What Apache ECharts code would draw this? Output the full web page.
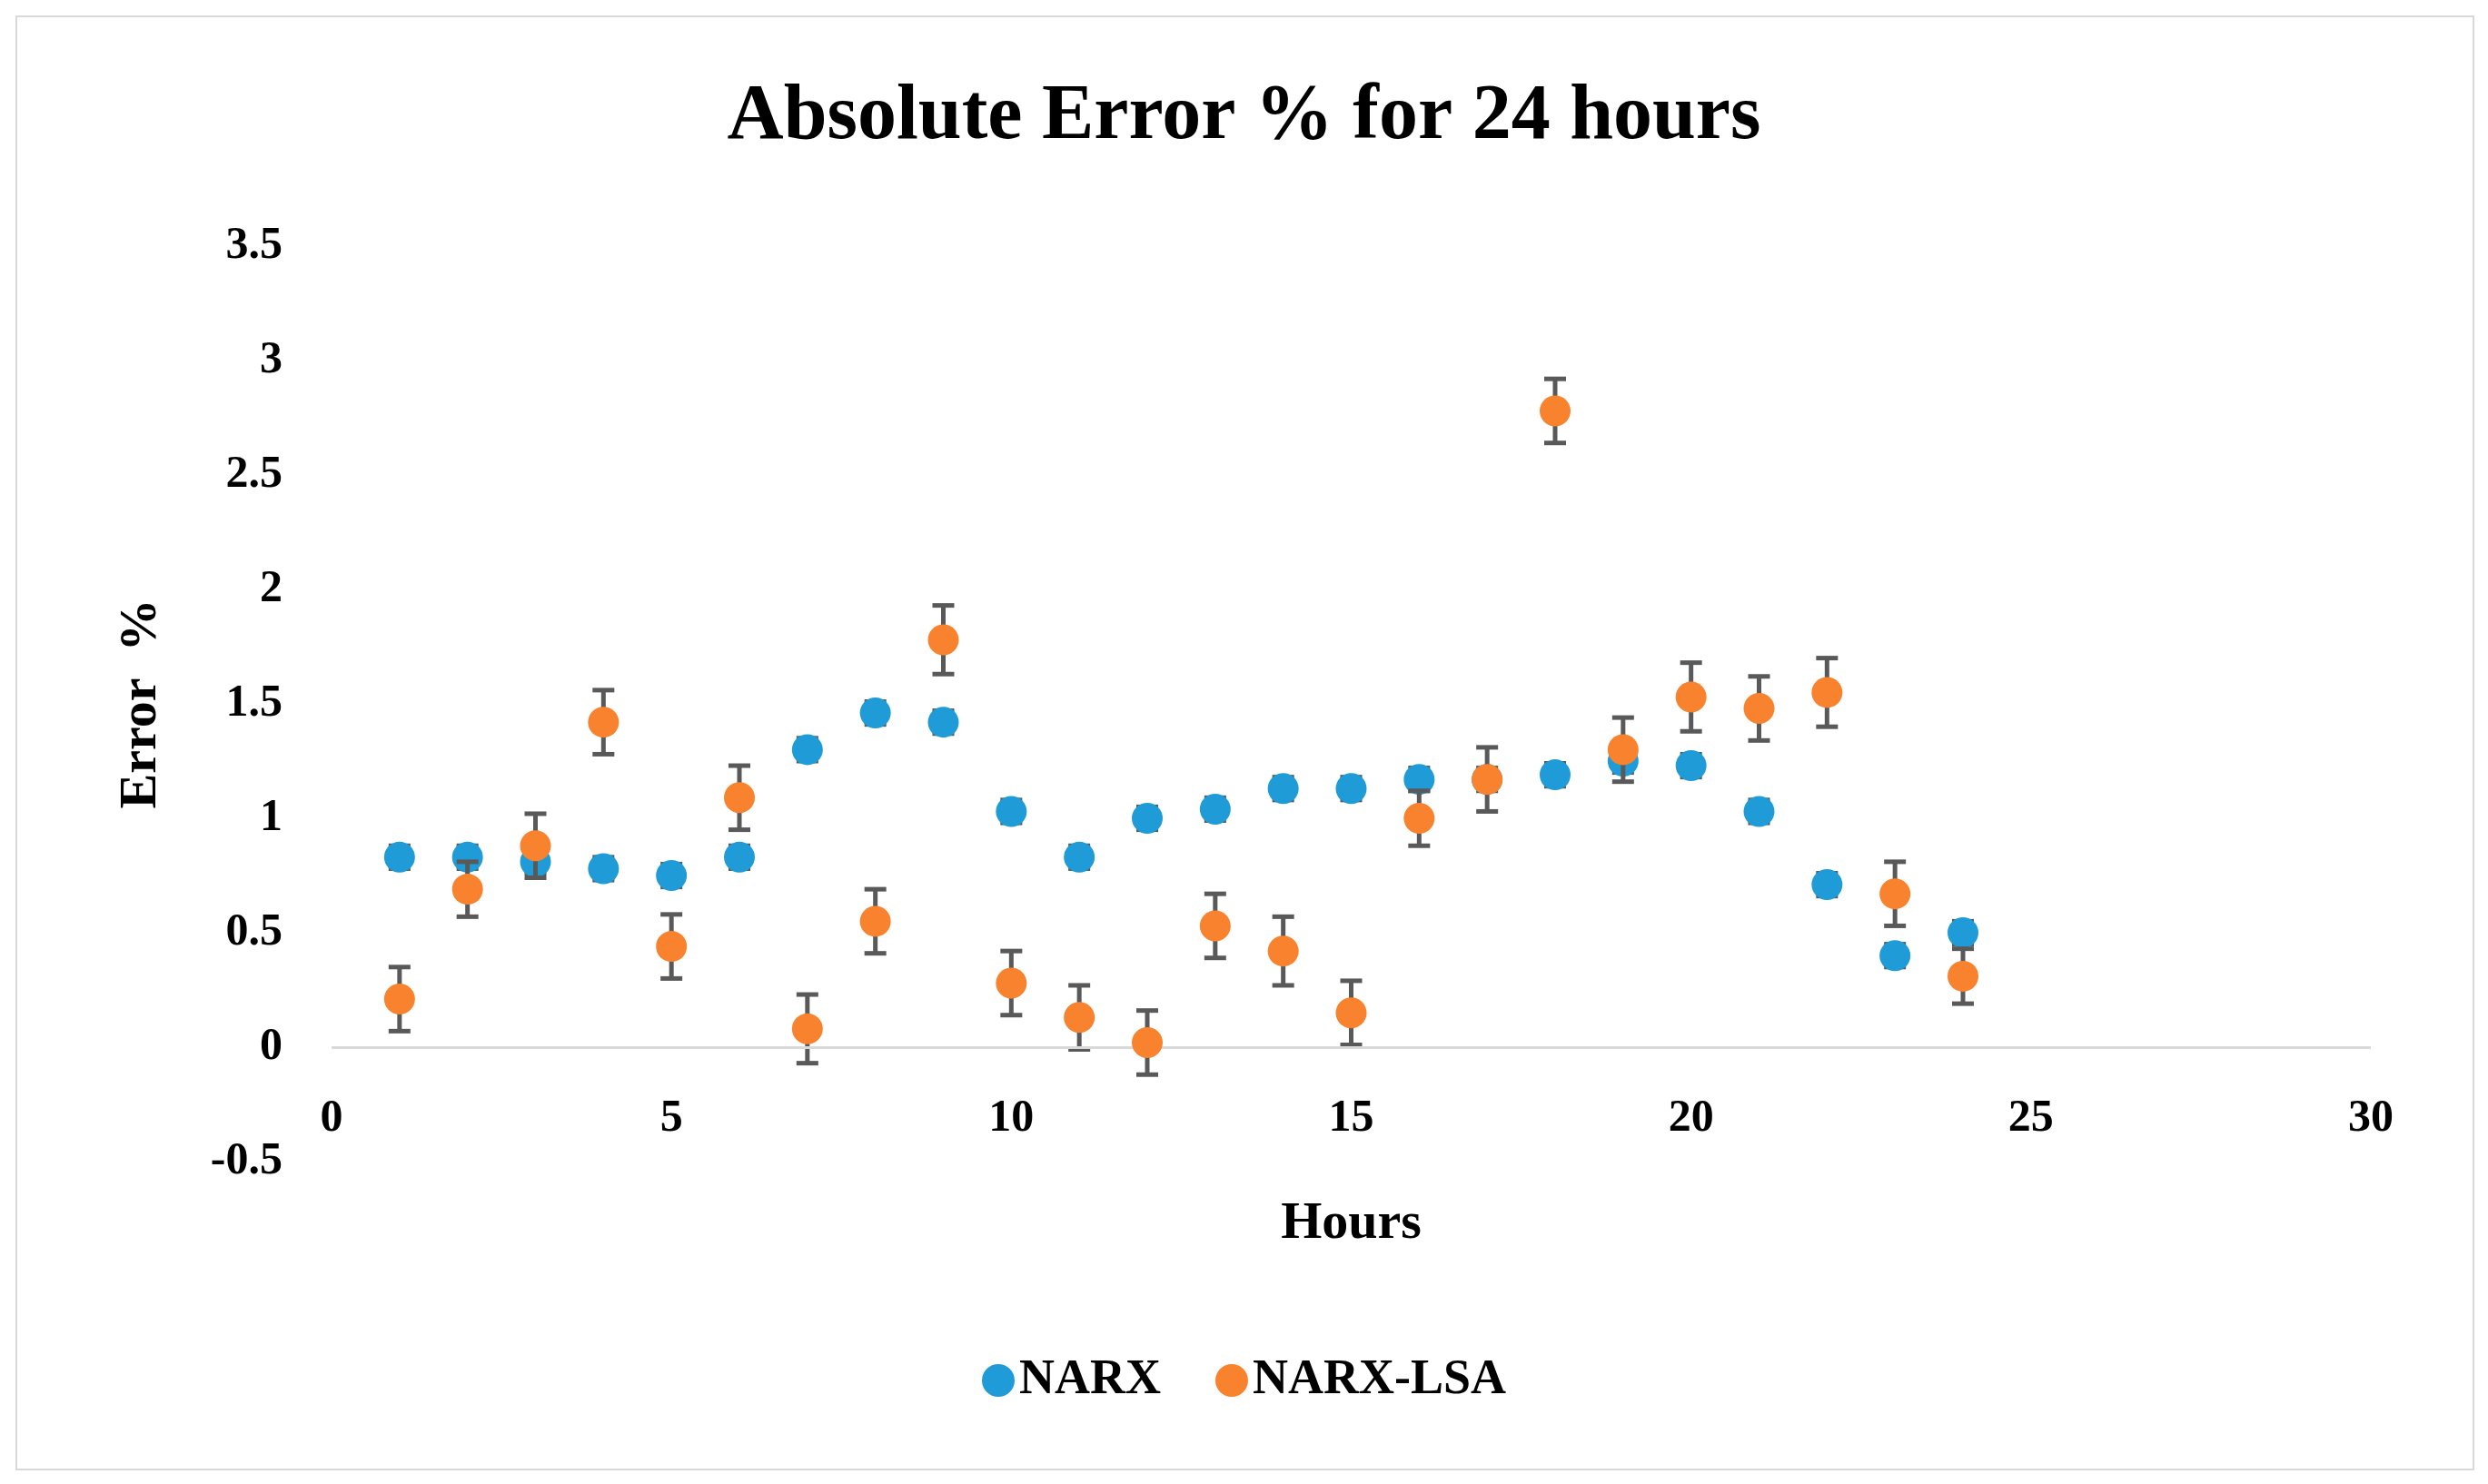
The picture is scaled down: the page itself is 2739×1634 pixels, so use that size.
<!DOCTYPE html>
<html><head><meta charset="utf-8">
<script src="https://cdn.jsdelivr.net/npm/echarts@6/dist/echarts.min.js"></script>
<style>html,body{margin:0;padding:0;background:#fff}#c{width:2739px;height:1634px}
#b{position:absolute;left:17px;top:17px;width:2703px;height:1598px;border:2px solid #d9d9d9;pointer-events:none}</style>
</head><body><div id="c"></div><div id="b"></div>
<script>
const hours = [1,2,3,4,5,6,7,8,9,10,11,12,13,14,15,16,17,18,19,20,21,22,23,24];
const narx = [0.83,0.83,0.81,0.78,0.75,0.83,1.30,1.46,1.42,1.03,0.83,1.00,1.04,1.13,1.13,1.17,1.17,1.19,1.25,1.23,1.03,0.71,0.40,0.50];
const narxErr = [0.05,0.05,0.05,0.05,0.05,0.05,0.05,0.05,0.05,0.05,0.05,0.05,0.05,0.05,0.05,0.05,0.05,0.05,0.05,0.05,0.05,0.05,0.05,0.05];
const lsa = [0.21,0.69,0.88,1.42,0.44,1.09,0.08,0.55,1.78,0.28,0.13,0.02,0.53,0.42,0.15,1.00,1.17,2.78,1.30,1.53,1.48,1.55,0.67,0.31];
const lsaErr = [0.14,0.12,0.14,0.14,0.14,0.14,0.15,0.14,0.15,0.14,0.14,0.14,0.14,0.15,0.14,0.12,0.14,0.14,0.14,0.15,0.14,0.15,0.14,0.12];
const blue = '#1f9bd7', orange = '#f8822d';
function errSeries(vals, errs, z){
  return {type:'custom', z:z, silent:true,
    data: hours.map((h,i)=>[h, vals[i]-errs[i], vals[i]+errs[i]]),
    renderItem:(p,api)=>{
      const lo=api.coord([api.value(0),api.value(1)]), hi=api.coord([api.value(0),api.value(2)]);
      const w=12, st={stroke:'#595959',lineWidth:5};
      return {type:'group',children:[
        {type:'line',shape:{x1:lo[0],y1:lo[1],x2:hi[0],y2:hi[1]},style:st},
        {type:'line',shape:{x1:lo[0]-w,y1:lo[1],x2:lo[0]+w,y2:lo[1]},style:st},
        {type:'line',shape:{x1:hi[0]-w,y1:hi[1],x2:hi[0]+w,y2:hi[1]},style:st}]};
    }};
}
const font = {fontFamily:'Liberation Serif', fontWeight:'bold', color:'#000'};
const chart = echarts.init(document.getElementById('c'));
chart.setOption({
  animation:false,
  title:{text:'Absolute Error % for 24 hours', left:'center', top:82, textStyle:{...font, fontSize:86}},
  grid:{left:365, right:129, top:271, bottom:355},
  legend:{bottom:82, left:'center', itemWidth:36, itemHeight:36, itemGap:60,
    data:['NARX','NARX-LSA'], textStyle:{...font, fontSize:54},
    icon:'circle'},
  xAxis:{type:'value', min:0, max:30, interval:5, name:'Hours', nameLocation:'middle', nameGap:40,
    nameTextStyle:{...font, fontSize:58},
    axisLine:{show:false, onZero:false}, axisTick:{show:false},
    splitLine:{show:false}, axisLabel:{...font, fontSize:50, margin:-72}},
  yAxis:{type:'value', min:-0.5, max:3.5, interval:0.5, name:'Error  %', nameLocation:'middle', nameGap:180,
    nameTextStyle:{...font, fontSize:58},
    axisLine:{show:false}, axisTick:{show:false}, splitLine:{show:false},
    axisLabel:{...font, fontSize:50, margin:54}},
  series:[
    {type:'line', data:[], z:0, markLine:{silent:true, symbol:'none', label:{show:false},
      lineStyle:{color:'#d9d9d9', width:3, type:'solid'}, data:[{yAxis:0}]}},
    errSeries(narx, narxErr, 2),
    {name:'NARX', type:'scatter', z:3, symbolSize:34, itemStyle:{color:blue, opacity:1}, data:hours.map((h,i)=>[h,narx[i]])},
    errSeries(lsa, lsaErr, 4),
    {name:'NARX-LSA', type:'scatter', z:5, symbolSize:34, itemStyle:{color:orange, opacity:1}, data:hours.map((h,i)=>[h,lsa[i]])}
  ]
});
</script></body></html>
